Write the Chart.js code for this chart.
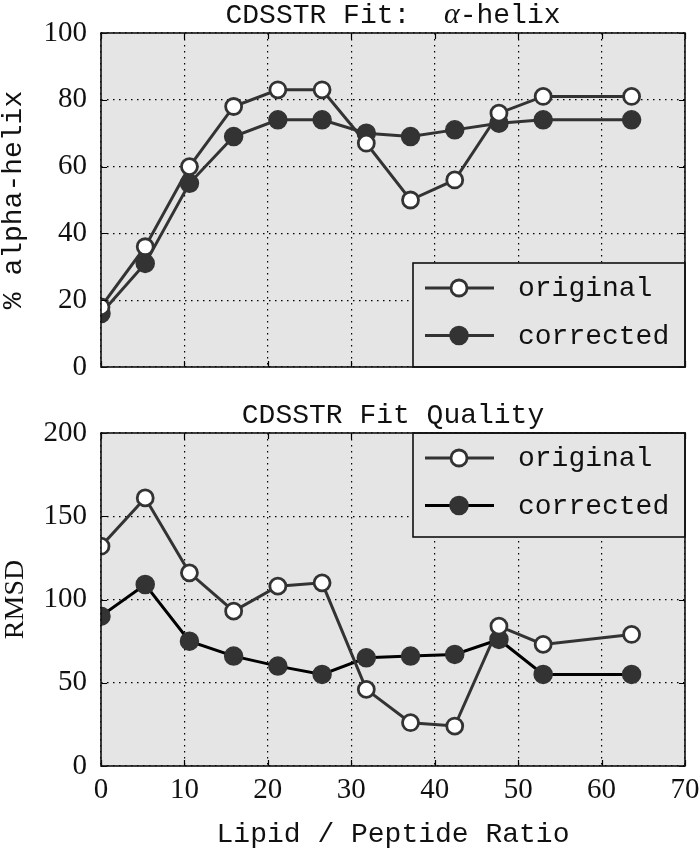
<!DOCTYPE html>
<html><head><meta charset="utf-8">
<script src="https://cdn.jsdelivr.net/npm/chart.js@4.4.1/dist/chart.umd.min.js"></script>
<style>
html,body{margin:0;padding:0;background:#fff;}
#wrap{position:relative;width:700px;height:853px;}
.box{position:absolute;left:0;width:700px;}
</style></head><body>
<div id="wrap">
<div class="box" style="top:0;height:400px"><canvas id="c1" width="700" height="400"></canvas></div>
<div class="box" style="top:400px;height:453px"><canvas id="c2" width="700" height="453"></canvas></div>
</div>
<script>
// ---- data ----
const ratios = [0, 5.3, 10.6, 15.9, 21.2, 26.5, 31.8, 37.1, 42.4, 47.7, 53.0, 63.6];
const helixOriginal = [18, 36, 60, 78, 83, 83, 67, 50, 56, 76, 81, 81];
const helixCorrected = [16, 31, 55, 69, 74, 74, 70, 69, 71, 73, 74, 74];
const rmsdOriginal = [132, 161, 116, 93, 108, 110, 46, 26, 24, 84, 73, 79];
const rmsdCorrected = [90, 109, 75, 66, 60, 55, 65, 66, 67, 76, 55, 55];
const xTicks = [0, 10, 20, 30, 40, 50, 60, 70];
const helixTicks = [0, 20, 40, 60, 80, 100];
const rmsdTicks = [0, 50, 100, 150, 200];
const seriesLabels = ['original', 'corrected'];

const MONO = "'Liberation Mono', 'DejaVu Sans Mono', monospace";
const SERIF = "'Liberation Serif', 'DejaVu Serif', serif";
const DARK = '#333333';
const PLOT_BG = '#e5e5e5';

const pts = (xs, ys) => xs.map((x, i) => ({x: x, y: ys[i]}));

const framePlugin = {
  id: 'frame',
  beforeDraw(chart) {
    const {ctx, chartArea: a} = chart;
    ctx.save();
    ctx.fillStyle = PLOT_BG;
    ctx.fillRect(a.left, a.top, a.right - a.left, a.bottom - a.top);
    ctx.restore();
  },
  afterDraw(chart, args, opts) {
    const {ctx, chartArea: a} = chart;
    const xs = chart.scales.x, ys = chart.scales.y;
    ctx.save();
    // title (centered over the plot area)
    ctx.fillStyle = '#111';
    ctx.textBaseline = 'alphabetic';
    ctx.textAlign = 'left';
    let total = 0;
    opts.titleParts.forEach(p => { ctx.font = p.font; total += ctx.measureText(p.text).width; });
    let tx = (a.left + a.right) / 2 - total / 2;
    opts.titleParts.forEach(p => {
      ctx.font = p.font;
      ctx.fillText(p.text, tx, 23);
      tx += ctx.measureText(p.text).width;
    });
    // inward ticks
    ctx.strokeStyle = '#000';
    ctx.lineWidth = 1.2;
    ctx.beginPath();
    xs.ticks.forEach(t => {
      const p = Math.round(xs.getPixelForValue(t.value)) + 0.5;
      ctx.moveTo(p, a.bottom); ctx.lineTo(p, a.bottom - 6);
      ctx.moveTo(p, a.top); ctx.lineTo(p, a.top + 6);
    });
    ys.ticks.forEach(t => {
      const p = Math.round(ys.getPixelForValue(t.value)) + 0.5;
      ctx.moveTo(a.left, p); ctx.lineTo(a.left + 6, p);
      ctx.moveTo(a.right, p); ctx.lineTo(a.right - 6, p);
    });
    ctx.stroke();
    // legend box
    const w = 272, h = 104;
    const bx = a.right - w;
    const by = opts.legendAt === 'bottom' ? a.bottom - h : a.top;
    ctx.fillStyle = PLOT_BG;
    ctx.fillRect(bx, by, w, h);
    ctx.strokeStyle = '#111';
    ctx.lineWidth = 1.6;
    ctx.strokeRect(bx, by, w, h);
    chart.data.datasets.forEach((ds, i) => {
      const y = by + 25 + i * 47.5;
      ctx.strokeStyle = ds.borderColor;
      ctx.lineWidth = ds.borderWidth;
      ctx.beginPath();
      ctx.moveTo(bx + 12, y); ctx.lineTo(bx + 81, y);
      ctx.stroke();
      ctx.beginPath();
      ctx.arc(bx + 46, y, ds.pointRadius, 0, Math.PI * 2);
      ctx.fillStyle = ds.pointBackgroundColor;
      ctx.fill();
      ctx.lineWidth = ds.pointBorderWidth;
      ctx.strokeStyle = ds.pointBorderColor;
      ctx.stroke();
      ctx.fillStyle = '#111';
      ctx.font = '28px ' + MONO;
      ctx.textBaseline = 'middle';
      ctx.textAlign = 'left';
      ctx.fillText(ds.label, bx + 105, y + 1);
    });
    // frame
    ctx.strokeStyle = '#111';
    ctx.lineWidth = 1.6;
    ctx.strokeRect(a.left, a.top, a.right - a.left, a.bottom - a.top);
    ctx.restore();
  }
};

function openSet(label, data, color) {
  return {label, data, borderColor: color, borderWidth: 3, pointRadius: 8,
    pointBorderWidth: 2.8, pointBackgroundColor: '#ffffff', pointBorderColor: DARK,
    pointHoverRadius: 8, tension: 0, showLine: true, clip: 0};
}
function filledSet(label, data, color) {
  return {label, data, borderColor: color, borderWidth: 3, pointRadius: 9,
    pointBorderWidth: 1.5, pointBackgroundColor: DARK, pointBorderColor: DARK,
    pointHoverRadius: 9, tension: 0, showLine: true, clip: 0};
}

function makeOptions(cfg) {
  return {
    responsive: false,
    animation: false,
    events: [],
    layout: {padding: {left: 0, right: 15, top: 33, bottom: 0}},
    plugins: {
      legend: {display: false},
      tooltip: {enabled: false},
      title: {display: false},
      frame: {legendAt: cfg.legendAt, titleParts: cfg.titleParts}
    },
    scales: {
      x: {
        type: 'linear', min: 0, max: 70,
        afterBuildTicks: s => { s.ticks = xTicks.map(v => ({value: v})); },
        afterFit: s => { s.height = cfg.xHeight; s.paddingLeft = 0; s.paddingRight = 0; },
        grid: {color: '#000', lineWidth: 1.2, drawTicks: false},
        border: {display: false, dash: [1.5, 4.5]},
        ticks: {display: cfg.showX, color: '#111', padding: 10, maxRotation: 0,
          font: {family: SERIF, size: 29, lineHeight: 1}},
        title: {display: cfg.showX, text: 'Lipid / Peptide Ratio', color: '#111',
          font: {family: MONO, size: 28, lineHeight: 1}, padding: {top: 0, bottom: 4}}
      },
      y: {
        type: 'linear', min: cfg.yTicks[0], max: cfg.yTicks[cfg.yTicks.length - 1],
        afterBuildTicks: s => { s.ticks = cfg.yTicks.map(v => ({value: v})); },
        afterFit: s => { s.width = 101; s.paddingTop = 0; s.paddingBottom = 0; },
        grid: {color: '#000', lineWidth: 1.2, drawTicks: false},
        border: {display: false, dash: [1.5, 4.5]},
        ticks: {color: '#111', padding: 14,
          font: {family: SERIF, size: 29, lineHeight: 1}},
        title: {display: true, text: cfg.yTitle, color: '#111',
          font: {family: cfg.yTitleFont, size: 28, lineHeight: 1}, padding: {top: cfg.yTitlePad, bottom: 0}}
      }
    }
  };
}

new Chart(document.getElementById('c1'), {
  type: 'scatter',
  data: {datasets: [
    openSet(seriesLabels[0], pts(ratios, helixOriginal), DARK),
    filledSet(seriesLabels[1], pts(ratios, helixCorrected), DARK)
  ]},
  options: makeOptions({
    titleParts: [
      {text: 'CDSSTR Fit:  ', font: '28px ' + MONO},
      {text: 'α', font: 'italic 30px ' + SERIF},
      {text: '-helix', font: '28px ' + MONO}
    ],
    legendAt: 'bottom', xHeight: 33, showX: false,
    yTicks: helixTicks, yTitle: '% alpha-helix', yTitleFont: MONO, yTitlePad: 0}),
  plugins: [framePlugin]
});

new Chart(document.getElementById('c2'), {
  type: 'scatter',
  data: {datasets: [
    openSet(seriesLabels[0], pts(ratios, rmsdOriginal), DARK),
    filledSet(seriesLabels[1], pts(ratios, rmsdCorrected), '#000000')
  ]},
  options: makeOptions({
    titleParts: [{text: 'CDSSTR Fit Quality', font: '28px ' + MONO}],
    legendAt: 'top', xHeight: 87, showX: true,
    yTicks: rmsdTicks, yTitle: 'RMSD', yTitleFont: SERIF, yTitlePad: 2}),
  plugins: [framePlugin]
});
</script>
</body></html>
